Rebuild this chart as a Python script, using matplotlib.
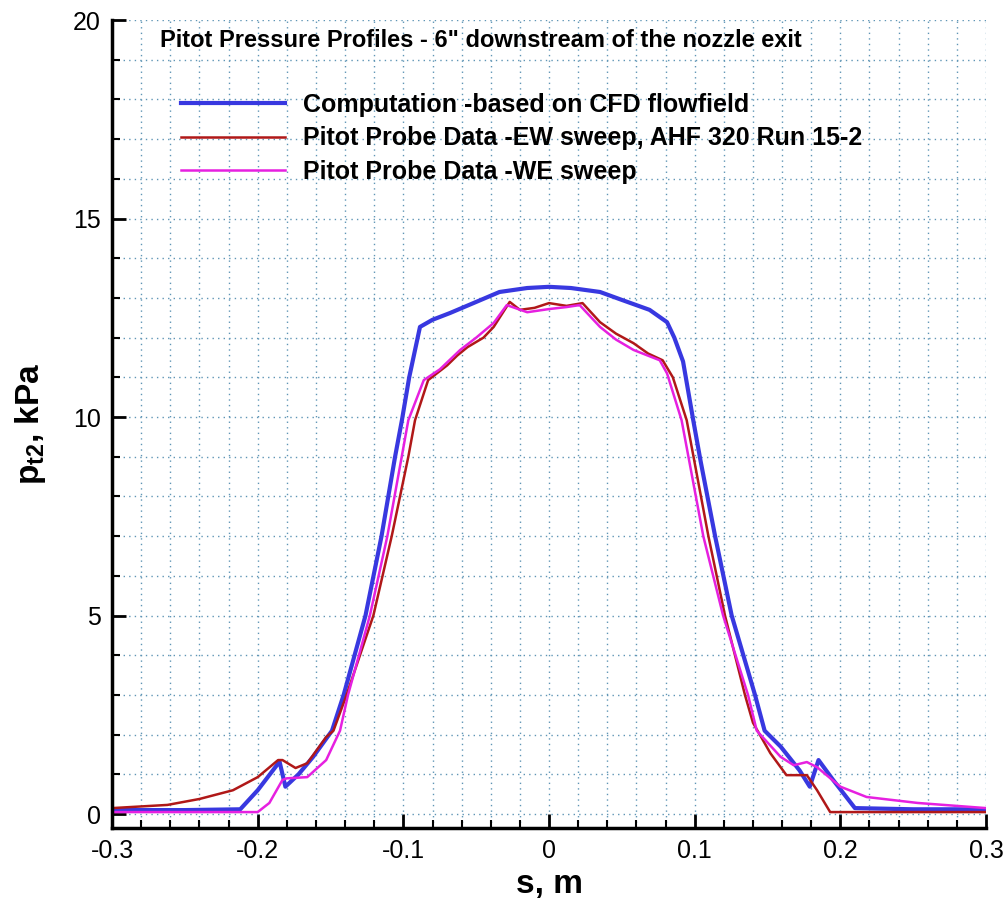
import numpy as np
import matplotlib
matplotlib.use('Agg')
import matplotlib.pyplot as plt
from matplotlib.ticker import MultipleLocator, FuncFormatter

plt.rcParams['font.family'] = ['Liberation Sans', 'DejaVu Sans']
plt.rcParams['mathtext.fontset'] = 'custom'
plt.rcParams['mathtext.rm'] = 'Liberation Sans'
plt.rcParams['mathtext.bf'] = 'Liberation Sans:bold'

# values
cfd_s = [-0.3, -0.25, -0.212, -0.2, -0.185, -0.181, -0.172, -0.162, -0.149, -0.141,
         -0.126, -0.115, -0.1057, -0.101, -0.096, -0.0886, -0.08, -0.068, -0.05, -0.034,
         -0.015, 0.0, 0.015, 0.035, 0.05, 0.069, 0.081, 0.086, 0.092, 0.099,
         0.104, 0.114, 0.1254, 0.1414, 0.148, 0.159, 0.172, 0.179, 0.185, 0.195,
         0.21, 0.25, 0.3]
cfd_p = [0.1, 0.1, 0.12, 0.6, 1.32, 0.69, 1.0, 1.44, 2.1, 3.0,
         5.0, 7.0, 9.0, 9.92, 11.0, 12.27, 12.45, 12.62, 12.9, 13.15,
         13.25, 13.28, 13.25, 13.15, 12.95, 12.7, 12.39, 12.0, 11.4, 9.92,
         8.9, 7.0, 5.0, 3.0, 2.1, 1.7, 1.1, 0.69, 1.36, 0.86,
         0.15, 0.12, 0.12]

ew_s = [-0.3, -0.262, -0.24, -0.217, -0.2, -0.186, -0.183, -0.174, -0.166, -0.153,
        -0.148, -0.139, -0.1206, -0.108, -0.0966, -0.092, -0.083, -0.07, -0.063, -0.056,
        -0.045, -0.038, -0.027, -0.02, -0.01, 0.0, 0.012, 0.023, 0.035, 0.046,
        0.058, 0.068, 0.078, 0.085, 0.0945, 0.1094, 0.1208, 0.1345, 0.14, 0.152,
        0.163, 0.177, 0.184, 0.193, 0.3]
ew_p = [0.15, 0.23, 0.38, 0.6, 0.93, 1.36, 1.36, 1.16, 1.28, 1.94,
        2.1, 3.0, 5.0, 7.0, 9.0, 9.92, 10.93, 11.3, 11.55, 11.76,
        12.0, 12.27, 12.9, 12.7, 12.75, 12.87, 12.8, 12.87, 12.39, 12.1,
        11.86, 11.6, 11.43, 11.0, 9.92, 7.0, 5.0, 3.0, 2.3, 1.53,
        0.98, 0.98, 0.6, 0.05, 0.05]

we_s = [-0.3, -0.2, -0.192, -0.183, -0.18, -0.166, -0.153, -0.1435, -0.138, -0.123,
        -0.111, -0.0966, -0.086, -0.075, -0.061, -0.05, -0.038, -0.029, -0.015, 0.0,
        0.012, 0.021, 0.035, 0.046, 0.058, 0.076, 0.081, 0.091, 0.1059, 0.1195,
        0.1366, 0.1426, 0.159, 0.168, 0.177, 0.184, 0.2, 0.218, 0.253, 0.3]
we_p = [0.05, 0.05, 0.28, 0.86, 0.9, 0.93, 1.36, 2.1, 3.0, 5.0,
        7.0, 9.92, 10.93, 11.2, 11.69, 12.0, 12.37, 12.82, 12.64, 12.72,
        12.77, 12.82, 12.27, 11.95, 11.69, 11.43, 11.1, 9.92, 7.0, 5.0,
        3.0, 2.1, 1.44, 1.23, 1.31, 1.18, 0.69, 0.43, 0.28, 0.15]

labels = ['Computation -based on CFD flowfield',
          'Pitot Probe Data -EW sweep, AHF 320 Run 15-2',
          'Pitot Probe Data -WE sweep']

fig = plt.figure(figsize=(10.04, 8.98), dpi=100)
ax = fig.add_axes([0.1116, 0.078, 0.8705, 0.8997])

ax.plot(cfd_s, cfd_p, color='#3838e0', lw=3.0, label=labels[0])
ax.plot(ew_s, ew_p, color='#b01818', lw=1.8, label=labels[1])
ax.plot(we_s, we_p, color='#e620e0', lw=1.8, label=labels[2])

ax.set_xlim(-0.3, 0.3)
ax.set_ylim(-0.35, 20)
ax.xaxis.set_major_locator(MultipleLocator(0.1))
ax.xaxis.set_minor_locator(MultipleLocator(0.02))
ax.yaxis.set_major_locator(MultipleLocator(5))
ax.yaxis.set_minor_locator(MultipleLocator(1))
ax.xaxis.set_major_formatter(FuncFormatter(lambda v, p: '0' if abs(v) < 1e-9 else f'{v:.1f}'))
ax.yaxis.set_major_formatter(FuncFormatter(lambda v, p: f'{v:.0f}'))

ax.grid(which='both', color='#5f95b5', linestyle=(0, (1, 3)), linewidth=1.0)
ax.set_axisbelow(True)
for side in ['top', 'right']:
    ax.spines[side].set_visible(False)
for side in ['left', 'bottom']:
    ax.spines[side].set_linewidth(2.5)
ax.tick_params(which='major', direction='in', length=10, width=2, labelsize=18, pad=8)
ax.tick_params(which='minor', direction='in', length=6, width=1.5)

ax.set_xlabel('s, m', fontsize=24, fontweight='bold', labelpad=4)
ax.set_ylabel(r'$\mathbf{p}_{\mathbf{t2}}$, kPa', fontsize=24, fontweight='bold', labelpad=18)

ax.text(0.055, 0.989, 'Pitot Pressure Profiles - 6" downstream of the nozzle exit',
        transform=ax.transAxes, fontsize=17, fontweight='bold', va='top', ha='left')

ax.legend(loc='upper left', bbox_to_anchor=(0.079, 0.9097), frameon=False,
          prop={'size': 18, 'weight': 'bold'},
          handlelength=4.16, handletextpad=0.72, labelspacing=0.38, borderpad=0, borderaxespad=0)

fig.savefig('out.png', dpi=100)
